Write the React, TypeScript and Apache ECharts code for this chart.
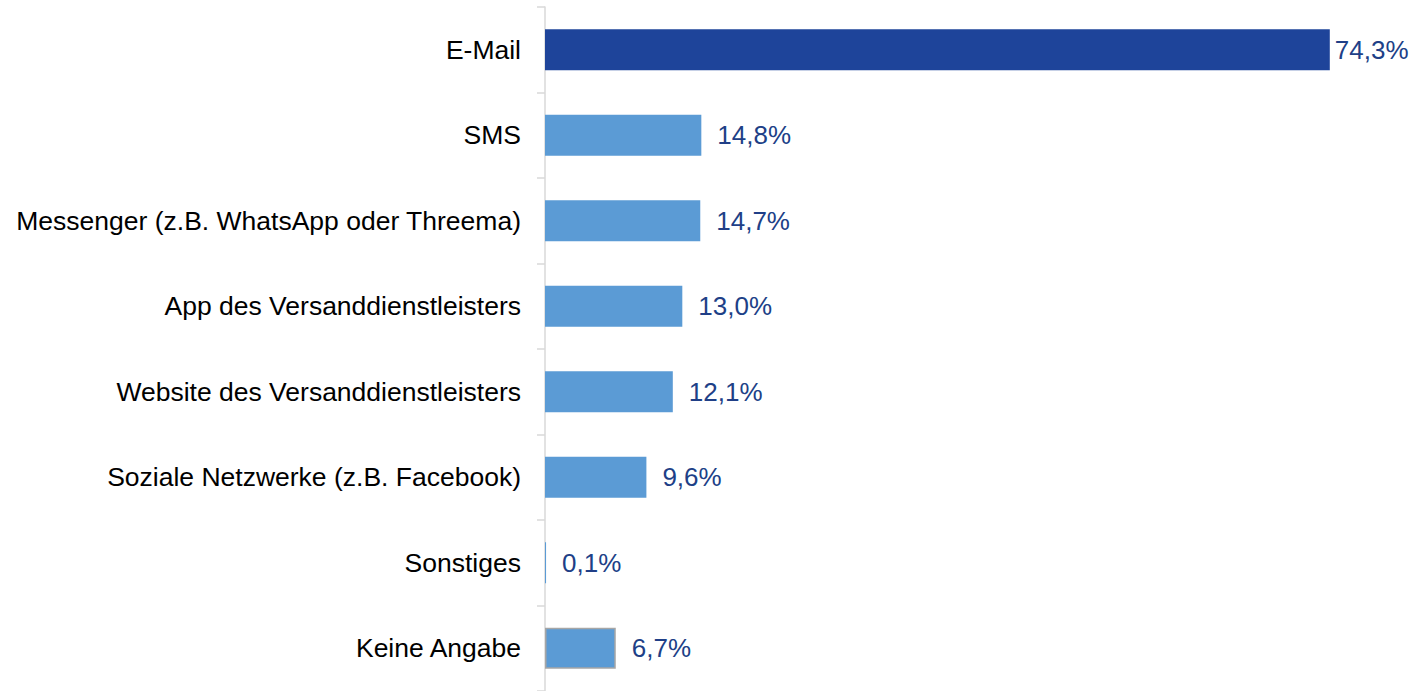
import React, { useEffect, useRef } from "react";
import * as echarts from "echarts";

const categories = [
  "E-Mail",
  "SMS",
  "Messenger (z.B. WhatsApp oder Threema)",
  "App des Versanddienstleisters",
  "Website des Versanddienstleisters",
  "Soziale Netzwerke (z.B. Facebook)",
  "Sonstiges",
  "Keine Angabe",
];
const values = [74.3, 14.8, 14.7, 13.0, 12.1, 9.6, 0.1, 6.7];

export default function App() {
  const ref = useRef<HTMLDivElement>(null);
  useEffect(() => {
    if (!ref.current) return;
    const chart = echarts.init(ref.current, undefined, { renderer: "svg" });
    const data = values.map((v, i) => {
      const item: any = { value: v };
      if (i === 0) {
        item.itemStyle = { color: "#1E449A" };
        item.label = { distance: 5 };
      }
      if (i === values.length - 1) {
        item.itemStyle = { color: "#5B9BD5", borderColor: "#A6A6A6", borderWidth: 1.5 };
      }
      return item;
    });
    chart.setOption({
      animation: false,
      grid: { left: 545, top: 7, bottom: 0, right: 34, containLabel: false },
      xAxis: {
        type: "value",
        min: 0,
        max: 80,
        show: false,
      },
      yAxis: {
        type: "category",
        data: categories,
        inverse: true,
        axisLine: { show: true, lineStyle: { color: "#D9D9D9", width: 1.5 } },
        axisTick: { show: true, length: 8, lineStyle: { color: "#D9D9D9", width: 1.5 } },
        axisLabel: {
          margin: 24,
          fontFamily: "Liberation Sans, Arial, sans-serif",
          fontSize: 26.5,
          color: "#000000",
        },
      },
      series: [
        {
          type: "bar",
          data,
          barWidth: 41,
          itemStyle: { color: "#5B9BD5" },
          label: {
            show: true,
            position: "right",
            distance: 16,
            fontFamily: "Liberation Sans, Arial, sans-serif",
            fontSize: 26,
            color: "#203F87",
            formatter: (p: any) => p.value.toFixed(1).replace(".", ",") + "%",
          },
        },
      ],
    });
    return () => chart.dispose();
  }, []);
  return (
    <div
      ref={ref}
      style={{ position: "absolute", left: 0, top: 0, width: 1424, height: 691, background: "#fff" }}
    />
  );
}
